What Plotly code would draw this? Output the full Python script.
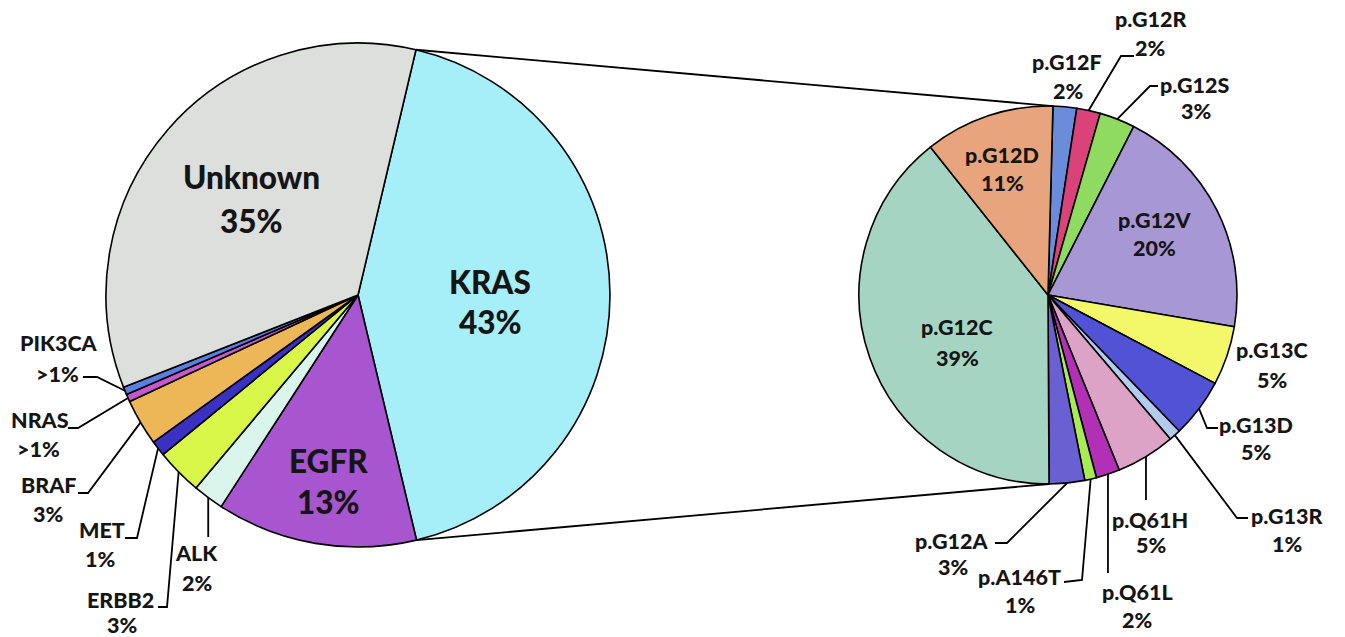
import math
import plotly.graph_objects as go

W, H = 1345, 637

# Driver mutations (left pie)
left_labels = ["KRAS", "EGFR", "ALK", "ERBB2", "MET", "BRAF", "NRAS", "PIK3CA", "Unknown"]
left_values = [43, 13, 2, 3, 1, 3, 0.5, 0.5, 35]
left_text = ["43%", "13%", "2%", "3%", "1%", "3%", ">1%", ">1%", "35%"]
left_colors = ["#A6EFF8", "#A855D0", "#DAF5EB", "#D8F748", "#3A30C2", "#EDB657",
               "#C65ACD", "#5A7FE0", "#DDDFDD"]

# KRAS mutation subtypes (right pie)
right_labels = ["p.G12F", "p.G12R", "p.G12S", "p.G12V", "p.G13C", "p.G13D", "p.G13R",
                "p.Q61H", "p.Q61L", "p.A146T", "p.G12A", "p.G12C", "p.G12D"]
right_values = [2, 2, 3, 20, 5, 5, 1, 5, 2, 1, 3, 39, 11]
right_text = ["2%", "2%", "3%", "20%", "5%", "5%", "1%", "5%", "2%", "1%", "3%", "39%", "11%"]
right_colors = ["#6A8CDB", "#D9437A", "#8FDB62", "#A797D5", "#F2F86A", "#5252D6", "#B3CBEE",
                "#DCA3C6", "#B230B5", "#A9EB53", "#6960D2", "#A6D4C2", "#E8A47C"]

# pie geometry in pixels: centre, radius, start angle (clockwise from 12 o'clock)
LEFT = dict(cx=358, cy=295, r=252, rot=13.3)
RIGHT = dict(cx=1048, cy=295, r=189, rot=1.5)

FONT = "Lato"
INK = "#151515"
BIG, SMALL = 31.5, 21.5


def to_paper(x, y):
    return x / W, 1 - y / H


def domain(g):
    return dict(x=[(g["cx"] - g["r"]) / W, (g["cx"] + g["r"]) / W],
                y=[1 - (g["cy"] + g["r"]) / H, 1 - (g["cy"] - g["r"]) / H])


def slice_angles(values, rot):
    """Start, middle and end angle (degrees) of each slice, as plotly lays them out."""
    total = float(sum(values))
    out, acc = [], 0.0
    for v in values:
        a0 = rot + acc / total * 360
        acc += v
        a1 = rot + acc / total * 360
        out.append((a0, (a0 + a1) / 2, a1))
    return out


def rim(g, ang, frac=1.0):
    t = math.radians(ang)
    return (g["cx"] + g["r"] * frac * math.sin(t), g["cy"] - g["r"] * frac * math.cos(t))


def path(points):
    pts = [to_paper(x, y) for x, y in points]
    return "M " + " L ".join(f"{x:.5f},{y:.5f}" for x, y in pts)


fig = go.Figure()
for labels, values, colors, g in [(left_labels, left_values, left_colors, LEFT),
                                  (right_labels, right_values, right_colors, RIGHT)]:
    fig.add_trace(go.Pie(
        labels=labels, values=values, sort=False, direction="clockwise",
        rotation=g["rot"], domain=domain(g), textinfo="none", hoverinfo="label+value",
        marker=dict(colors=colors, line=dict(color="#000000", width=1.6)),
        showlegend=False,
    ))

L_ang = dict(zip(left_labels, slice_angles(left_values, LEFT["rot"])))
R_ang = dict(zip(right_labels, slice_angles(right_values, RIGHT["rot"])))

shapes = []
line_style = dict(color="#000000", width=1.8)

# connectors from the KRAS slice to the breakdown pie
shapes.append(dict(type="path", xref="paper", yref="paper", line=line_style,
                   path=path([rim(LEFT, L_ang["KRAS"][0]), rim(RIGHT, R_ang["p.G12F"][0])])))
shapes.append(dict(type="path", xref="paper", yref="paper", line=line_style,
                   path=path([rim(LEFT, L_ang["KRAS"][2]), rim(RIGHT, R_ang["p.G12C"][0])])))

# leader lines: slice rim -> elbow(s) near the label
left_leaders = {
    "PIK3CA": [(97, 377), (83, 377)],
    "NRAS": [(78, 428), (68, 428)],
    "BRAF": [(88, 493), (78, 493)],
    "MET": [(137, 538), (125, 538)],
    "ERBB2": [(167, 607), (158, 607)],
    "ALK": [None, 537],
}
right_leaders = {
    "p.G12R": [(1121, 56), (1134, 56)],
    "p.G12S": [(1150, 86), (1158, 86)],
    "p.G13D": [(1207, 428), (1218, 428)],
    "p.G13R": [(1237, 518), (1248, 518)],
    "p.Q61H": [None, 500],
    "p.Q61L": [None, 573],
    "p.A146T": [(1082, 580), (1064, 582)],
    "p.G12A": [(1007, 543), (995, 543)],
}
for g, angs, leaders in [(LEFT, L_ang, left_leaders), (RIGHT, R_ang, right_leaders)]:
    for name, pts in leaders.items():
        start = rim(g, angs[name][1])
        if pts[0] is None:  # straight drop below the slice
            pts = [(start[0], pts[1])]
        shapes.append(dict(type="path", xref="paper", yref="paper", line=line_style,
                           path=path([start] + pts)))

# label positions (pixel centres of the name line and the percentage line)
left_pos = {
    "Unknown": (251, 177, 251, 221, BIG),
    "KRAS": (490, 282, 490, 322, BIG),
    "EGFR": (328, 461, 328, 502, BIG),
    "PIK3CA": (59, 343, 57, 374, SMALL),
    "NRAS": (40, 420, 38, 449, SMALL),
    "BRAF": (49, 485, 48, 514, SMALL),
    "MET": (102, 530, 100, 559, SMALL),
    "ERBB2": (120, 600, 122, 625, SMALL),
    "ALK": (197, 553, 197, 583, SMALL),
}
right_pos = {
    "p.G12F": (1067, 62, 1068, 91),
    "p.G12R": (1151, 19, 1150, 48),
    "p.G12S": (1195, 85, 1196, 111),
    "p.G12V": (1155, 220, 1154, 248),
    "p.G12D": (1002, 155, 1002, 183),
    "p.G12C": (957, 327, 957, 358),
    "p.G13C": (1272, 350, 1272, 380),
    "p.G13D": (1256, 425, 1256, 452),
    "p.G13R": (1287, 516, 1287, 544),
    "p.Q61H": (1150, 520, 1151, 545),
    "p.Q61L": (1137, 592, 1137, 620),
    "p.A146T": (1019, 577, 1020, 605),
    "p.G12A": (952, 541, 953, 567),
}

annotations = []


def add_label(text, x, y, size):
    px_, py_ = to_paper(x, y)
    annotations.append(dict(text=text, x=px_, y=py_, xref="paper", yref="paper",
                            xanchor="center", yanchor="middle", showarrow=False,
                            font=dict(family=FONT, size=size, color=INK, weight=900)))


for name, pct in zip(left_labels, left_text):
    x1, y1, x2, y2, size = left_pos[name]
    add_label(name, x1, y1, size)
    add_label(pct, x2, y2, size)
for name, pct in zip(right_labels, right_text):
    x1, y1, x2, y2 = right_pos[name]
    add_label(name, x1, y1, SMALL)
    add_label(pct, x2, y2, SMALL)

fig.update_layout(
    width=W, height=H, margin=dict(l=0, r=0, t=0, b=0),
    paper_bgcolor="#FFFFFF", plot_bgcolor="#FFFFFF",
    shapes=shapes, annotations=annotations,
)

fig.write_html("out.html", include_plotlyjs=True, config={"displayModeBar": False})
